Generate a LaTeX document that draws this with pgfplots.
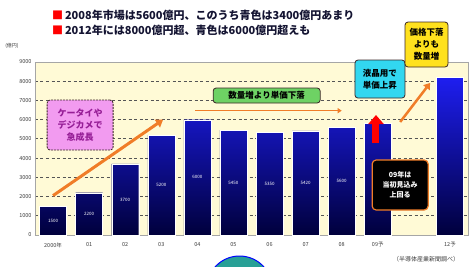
\documentclass[border=0pt]{standalone}
\usepackage{fontspec}
\setmainfont{Noto Sans CJK JP}
\usepackage{pgfplots}
\usepackage{pgfplotstable}
\pgfplotsset{compat=1.18}
\usetikzlibrary{arrows.meta}
\definecolor{cream}{RGB}{255,250,214}
\definecolor{bartop}{RGB}{30,30,240}
\definecolor{barbot}{RGB}{0,0,60}
\definecolor{gridgray}{RGB}{85,85,85}
\definecolor{tickgray}{RGB}{60,60,60}
\definecolor{arroworange}{RGB}{240,125,40}
\definecolor{pinkfill}{RGB}{242,155,240}
\definecolor{pinktext}{RGB}{150,30,150}
\definecolor{greenfill}{RGB}{110,210,100}
\definecolor{cyanfill}{RGB}{50,215,240}
\definecolor{yellowfill}{RGB}{255,225,30}
\definecolor{boxedge}{RGB}{60,40,40}
\definecolor{titletext}{RGB}{20,20,50}
\definecolor{tealfill}{RGB}{40,160,150}

\pgfplotstableread{
x v
0 1500
1 2200
2 3700
3 5200
4 6000
5 5450
6 5350
7 5420
8 5600
9 5800
11 8200
}\bars

\begin{document}
\begin{tikzpicture}
\path[use as bounding box] (-35pt,-31pt) rectangle (436pt,235pt);
% partial circle at the bottom
\fill[tealfill, draw=blue, line width=1pt] (204.5pt,-53.8pt) circle (32.8pt);
% titles
\node[anchor=west, font=\bfseries\fontsize{11}{12}\selectfont, text=titletext, inner sep=0pt] at (17pt,220pt)
  {\textcolor{red}{■}\,2008年市場は5600億円、このうち青色は3400億円あまり};
\node[anchor=west, font=\bfseries\fontsize{11}{12}\selectfont, text=titletext, inner sep=0pt] at (17pt,205pt)
  {\textcolor{red}{■}\,2012年には8000億円超、青色は6000億円超えも};
\node[font=\fontsize{5}{6}\selectfont, text=tickgray] at (-23pt,189pt) {(億円)};
\node[anchor=west, font=\fontsize{6}{7}\selectfont, text=tickgray, inner sep=0pt] at (358pt,-24pt) {（半導体産業新聞調べ）};

\begin{axis}[
  at={(0pt,0pt)}, anchor=south west,
  scale only axis, width=433pt, height=173pt,
  xmin=-0.5, xmax=11.5, ymin=0, ymax=9000,
  xtick={0,1,2,3,4,5,6,7,8,9,11},
  xticklabels={2000年,01,02,03,04,05,06,07,08,09予,12予},
  ytick={0,1000,...,9000},
  ymajorgrids,
  grid style={dash pattern=on 3pt off 2.5pt, line width=0.8pt, color=gridgray},
  major tick length=0pt,
  tick label style={font=\fontsize{5.5}{6}\selectfont, text=tickgray},
  /pgf/number format/assume math mode=true,
  /pgf/number format/set thousands separator={},
  xticklabel style={yshift=-4pt},
  axis line style={draw=gray!70},
  axis background/.style={fill=cream},
  clip=false,
]
\addplot[ybar, bar width=27pt, draw=white, line width=0.3pt, top color=bartop, bottom color=barbot] table[x=x, y=v] {\bars};
\addplot[draw=none, mark=none, restrict x to domain=0:8,
  nodes near coords, point meta=explicit symbolic,
  every node near coord/.style={anchor=center, font=\fontsize{4.5}{5}\selectfont, text=white}]
  table[x=x, y expr=\thisrow{v}/2, meta=v] {\bars};

% arrows
\draw[arroworange, line width=3pt, -{Triangle[width=9pt,length=7pt]}] (axis cs:0,2050) -- (axis cs:3.05,6000);
\draw[arroworange, line width=1.5pt, -{Triangle[width=5pt,length=4pt]}] (axis cs:3.94,6470) -- (axis cs:8.0,6470);
\draw[arroworange, line width=2.5pt, -{Triangle[width=8pt,length=6pt]}] (axis cs:9.62,5880) -- (axis cs:10.45,7910);
\draw[red, line width=7pt, -{Triangle[width=15pt,length=9pt]}] (axis cs:8.95,4786) -- (axis cs:8.95,6242);

% boxes
\node[draw=boxedge, fill=pinkfill, rounded corners=3pt, line width=0.8pt, dash pattern=on 2pt off 1pt, align=center,
  text=pinktext, font=\bfseries\fontsize{9}{12}\selectfont, minimum width=66pt, minimum height=50pt, inner sep=2pt]
  at (axis cs:0.75,5720) {ケータイや\\デジカメで\\急成長};
\node[draw=boxedge, fill=greenfill, rounded corners=3pt, line width=0.8pt, align=center,
  text=black, font=\bfseries\fontsize{8.5}{10}\selectfont, minimum width=107pt, minimum height=15pt, inner sep=1.5pt]
  at (axis cs:5.92,7257) {数量増より単価下落};
\node[draw=boxedge, fill=cyanfill, rounded corners=3pt, line width=0.8pt, align=center,
  text=black, font=\bfseries\fontsize{8.5}{12}\selectfont, minimum width=50pt, minimum height=38pt, inner sep=2pt]
  at (axis cs:9.06,8115) {液晶用で\\単価上昇};
\node[draw=boxedge, fill=yellowfill, rounded corners=3pt, line width=0.8pt, align=center,
  text=black, font=\bfseries\fontsize{8.5}{12}\selectfont, minimum width=43pt, minimum height=45pt, inner sep=2pt]
  at (axis cs:10.35,9910) {価格下落\\よりも\\数量増};
\node[draw=arroworange, fill=black, rounded corners=4pt, line width=1.2pt, align=center,
  text=white, font=\bfseries\fontsize{7}{10}\selectfont, minimum width=56pt, minimum height=50pt, inner sep=2pt]
  at (axis cs:9.62,2601) {09年は\\当初見込み\\上回る};
\end{axis}
\end{tikzpicture}
\end{document}
